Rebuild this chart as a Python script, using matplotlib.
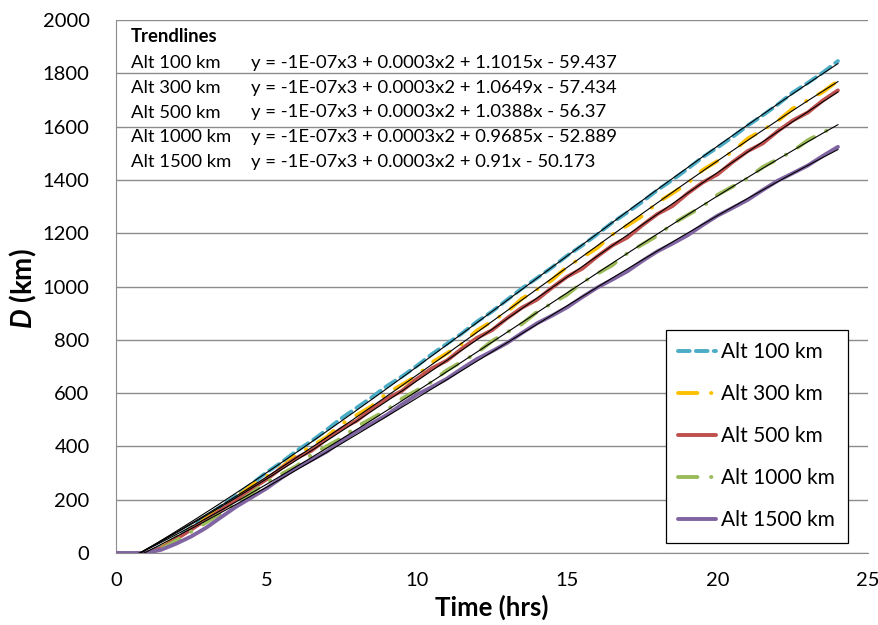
import matplotlib.pyplot as plt
import numpy as np

plt.rcParams['font.family'] = ['Lato', 'DejaVu Sans']
plt.rcParams['mathtext.fontset'] = 'custom'
plt.rcParams['mathtext.it'] = 'Lato:italic:bold'

# time in hours, sampled every half hour
hours = np.arange(0, 24.5, 0.5)

alt_100 = [0, 0, 0, 22, 58, 95, 135, 176, 215, 258, 302, 340, 383, 420, 462, 506, 545,
           584, 626, 662, 702, 746, 785, 824, 868, 906, 950, 993, 1032, 1072, 1116, 1154,
           1196, 1240, 1278, 1318, 1362, 1400, 1441, 1485, 1522, 1561, 1604, 1642, 1683,
           1728, 1764, 1803, 1846]
alt_300 = [0, 0, 0, 20, 55, 92, 130, 168, 208, 253, 287, 321, 369, 401, 435, 484, 517,
           551, 599, 631, 665, 715, 749, 785, 835, 869, 905, 955, 989, 1025, 1075, 1109,
           1145, 1195, 1229, 1265, 1315, 1350, 1387, 1437, 1471, 1506, 1555, 1587, 1621,
           1668, 1699, 1730, 1772]
alt_500 = [0, 0, 0, 18, 52, 88, 125, 162, 200, 240, 276, 319, 357, 384, 428, 467, 496,
           540, 579, 608, 653, 693, 722, 767, 807, 836, 881, 921, 951, 996, 1037, 1067,
           1113, 1154, 1184, 1230, 1272, 1302, 1349, 1390, 1421, 1467, 1508, 1537, 1583,
           1623, 1653, 1698, 1736]
alt_1000 = [0, 0, 0, 15, 46, 80, 115, 150, 186, 224, 266, 296, 326, 369, 400, 431, 474,
            505, 536, 579, 610, 642, 686, 718, 751, 795, 828, 860, 905, 937, 970, 1015,
            1048, 1080, 1125, 1158, 1191, 1235, 1268, 1300, 1344, 1375, 1406, 1448, 1478,
            1508, 1549, 1578, 1606]
alt_1500 = [0, 0, 0, 12, 35, 62, 95, 135, 174, 208, 242, 282, 319, 349, 380, 420, 456,
            486, 518, 557, 594, 623, 654, 692, 728, 757, 788, 826, 862, 891, 922, 960,
            996, 1026, 1057, 1096, 1132, 1161, 1192, 1230, 1266, 1295, 1325, 1362, 1397,
            1425, 1454, 1490, 1524]

labels = ['Alt 100 km', 'Alt 300 km', 'Alt 500 km', 'Alt 1000 km', 'Alt 1500 km']
equations = ['y = -1E-07x3 + 0.0003x2 + 1.1015x - 59.437',
             'y = -1E-07x3 + 0.0003x2 + 1.0649x - 57.434',
             'y = -1E-07x3 + 0.0003x2 + 1.0388x - 56.37',
             'y = -1E-07x3 + 0.0003x2 + 0.9685x - 52.889',
             'y = -1E-07x3 + 0.0003x2 + 0.91x - 50.173']

colors = ['#4BACC6', '#FFC000', '#C0504D', '#9BBB59', '#8064A2']
dashes = [(3, 1.6), (5, 3.5, 0.1, 3.5), (), (5, 3.5, 0.1, 3.5), ()]

series = [alt_100, alt_300, alt_500, alt_1000, alt_1500]

fig = plt.figure(figsize=(8.79, 6.25), dpi=100)
ax = fig.add_axes([116 / 879, 1 - 553 / 625, 752 / 879, 533 / 625])

for vals, lab, col, ds in zip(series, labels, colors, dashes):
    ln, = ax.plot(hours, vals, color=col, lw=2.8, label=lab, zorder=3,
                  dash_capstyle='round', solid_capstyle='round')
    if ds:
        ln.set_dashes(ds)

# 3rd order polynomial trendlines (x in minutes, like the equations)
tfine = np.linspace(0, 24, 300)
for vals in series:
    p = np.polyfit(hours * 60, vals, 3)
    ax.plot(tfine, np.polyval(p, tfine * 60), color='black', lw=0.8, zorder=4)

ax.set_xlim(0, 25)
ax.set_ylim(0, 2000)
ax.set_xticks(np.arange(0, 26, 5))
ax.set_yticks(np.arange(0, 2001, 200))
ax.tick_params(length=0, labelsize=14.5)
ax.tick_params(axis='y', pad=19)
ax.tick_params(axis='x', pad=14)
ax.grid(axis='y', color='#8c8c8c', lw=1)
ax.set_axisbelow(True)
for s in ['top', 'right']:
    ax.spines[s].set_visible(False)
for s in ['left', 'bottom']:
    ax.spines[s].set_color('#8c8c8c')

ax.set_xlabel('Time (hrs)', fontsize=18.5, fontweight='bold', labelpad=4)
ax.set_ylabel('$D$ (km)', fontsize=20, fontweight='bold', va='center')
ax.yaxis.set_label_coords(23 / 879, 1 - 289 / 625, transform=fig.transFigure)

# trendline equations box
fig.text(131 / 879, 1 - 37 / 625, 'Trendlines', fontsize=13.3, fontweight='bold', va='center')
for i, (lab, eq) in enumerate(zip(labels, equations)):
    yy = 1 - (63 + i * 24.75) / 625
    fig.text(131 / 879, yy, lab, fontsize=13.3, va='center')
    fig.text(251 / 879, yy, eq, fontsize=13.3, va='center')

leg = ax.legend(loc='upper left', bbox_to_anchor=(666 / 879, 1 - 330 / 625),
                bbox_transform=fig.transFigure, fontsize=15, frameon=True,
                fancybox=False, edgecolor='black', framealpha=1, borderaxespad=0,
                handlelength=1.8, labelspacing=1.05, borderpad=0.6, handletextpad=0.25)
leg.get_frame().set_linewidth(0.9)

fig.savefig('out.png', dpi=100)
